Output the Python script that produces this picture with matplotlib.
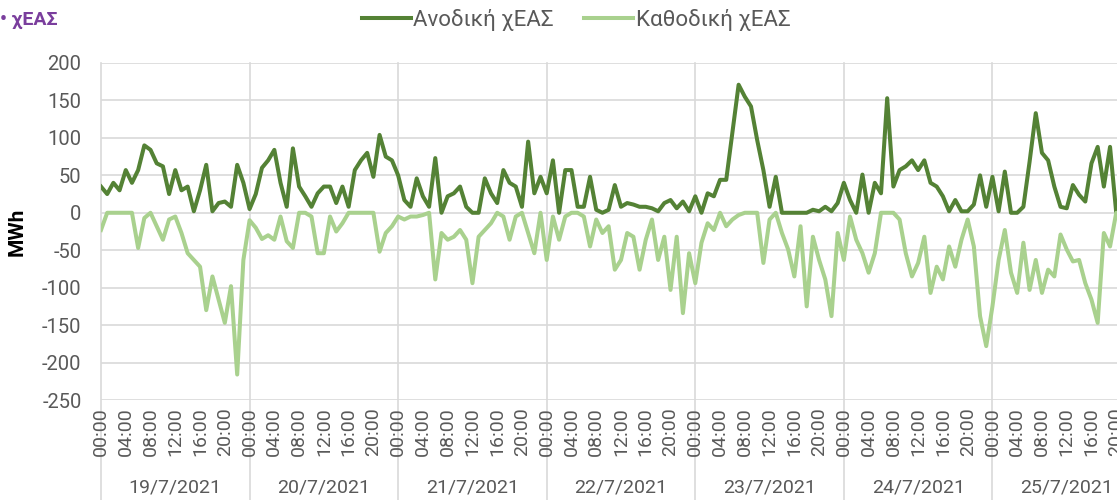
import matplotlib
matplotlib.use("Agg")
import matplotlib.pyplot as plt

plt.rcParams['font.family'] = ['Roboto', 'DejaVu Sans']
plt.rcParams['axes.unicode_minus'] = False

# hourly values, one list per day
days = ["19/7/2021", "20/7/2021", "21/7/2021", "22/7/2021",
        "23/7/2021", "24/7/2021", "25/7/2021"]

up_19 = [35, 25, 40, 30, 57, 40, 57, 90, 84, 66, 62, 25, 57, 30, 35, 2, 30, 64, 2, 13, 15, 8, 64, 40]
up_20 = [5, 25, 60, 70, 84, 40, 8, 86, 35, 22, 8, 26, 35, 35, 13, 35, 8, 57, 70, 80, 48, 104, 75, 70]
up_21 = [50, 17, 8, 46, 22, 8, 73, 0, 22, 26, 35, 8, 0, 0, 46, 26, 13, 57, 40, 35, 8, 95, 26, 48]
up_22 = [26, 70, 0, 57, 57, 8, 8, 48, 4, 0, 4, 37, 8, 13, 11, 8, 8, 6, 2, 13, 17, 6, 15, 2]
up_23 = [22, 0, 26, 22, 44, 44, 108, 171, 155, 142, 97, 57, 8, 48, 0, 0, 0, 0, 0, 4, 2, 8, 2, 13]
up_24 = [40, 17, 0, 51, 0, 40, 26, 153, 35, 57, 62, 70, 57, 70, 40, 35, 22, 2, 17, 2, 2, 11, 50, 8]
up_25 = [48, 2, 55, 0, 0, 8, 68, 133, 80, 70, 35, 8, 6, 37, 24, 15, 66, 88, 35, 88, 0, 20, 30, 10]

down_19 = [-23, 0, 0, 0, 0, 0, -47, -7, 0, -18, -36, -9, -5, -27, -54, -63, -72, -130, -85, -116, -147, -98, -216, -63]
down_20 = [-10, -20, -35, -30, -36, -5, -38, -47, 0, 0, -5, -54, -54, -5, -25, -14, 0, 0, 0, 0, 0, -52, -27, -18]
down_21 = [-5, -9, -5, -5, -3, 0, -89, -27, -36, -32, -23, -36, -94, -32, -23, -14, 0, -5, -36, -5, 0, -27, -54, 0]
down_22 = [-63, -5, -36, -5, 0, 0, -5, -45, -9, -27, -18, -76, -63, -27, -32, -76, -36, -9, -63, -32, -103, -32, -134, -54]
down_23 = [-94, -40, -14, -23, 0, -18, -9, -3, 0, 0, 0, -67, -9, 0, -27, -49, -85, -18, -125, -32, -63, -89, -138, -27]
down_24 = [-63, -5, -36, -54, -80, -54, 0, 0, 0, -9, -54, -85, -67, -32, -107, -72, -89, -45, -72, -36, -9, -45, -138, -178]
down_25 = [-125, -63, -23, -80, -107, -40, -103, -63, -107, -76, -85, -29, -49, -65, -63, -94, -116, -147, -27, -45, 0, -20, -40, -30]

hour_labels = ["00:00", "04:00", "08:00", "12:00", "16:00", "20:00"]

anodiki = up_19 + up_20 + up_21 + up_22 + up_23 + up_24 + up_25
kathodiki = down_19 + down_20 + down_21 + down_22 + down_23 + down_24 + down_25
hours = list(range(len(anodiki)))

dark = '#548235'
light = '#a9d18e'
grid = '#d9d9d9'
txt = '#595959'

fig = plt.figure(figsize=(11.17, 5.0), dpi=100)
# the chart is cut off on the right, as in the source
ax = fig.add_axes([101 / 1117, 100 / 500, 1040 / 1117, 337 / 500])

ax.plot(hours, anodiki, color=dark, lw=2.9, label='Ανοδική χΕΑΣ', solid_joinstyle='round')
ax.plot(hours, kathodiki, color=light, lw=2.9, label='Καθοδική χΕΑΣ', solid_joinstyle='round')

ax.set_xlim(0, 24 * len(days))
ax.set_ylim(-250, 200)
ax.set_yticks(range(-250, 201, 50))
ax.yaxis.grid(True, color=grid, lw=1.2)
ax.set_axisbelow(True)
for s in ax.spines.values():
    s.set_visible(False)

# day separators run down through the label area
xt = ax.get_xaxis_transform()
for d in range(len(days) + 1):
    ax.plot([24 * d, 24 * d], [1, -100 / 337], color=grid, lw=1.2,
            transform=xt, clip_on=False, zorder=0)
    if d < len(days):
        ax.text(24 * d + 12, -88 / 337, days[d], transform=xt, ha='center',
                va='center', fontsize=14, color=txt)

ticks = list(range(0, 24 * len(days) + 1, 4))
ax.set_xticks(ticks)
ax.set_xticklabels([hour_labels[(t // 4) % 6] for t in ticks], rotation=90,
                   fontsize=14, color=txt)
ax.tick_params(axis='x', length=0, pad=5)
ax.tick_params(axis='y', length=0, pad=14, labelsize=14.5, labelcolor=txt)

fig.text(17 / 1117, 1 - 232 / 500, 'MWh', rotation=90, ha='center', va='center',
         fontsize=15, fontweight='bold', color='black')
fig.text(0, 1 - 20 / 500, '• χΕΑΣ', ha='left', va='center',
         fontsize=14, fontweight='bold', color='#7a3e9d')

fig.legend(loc='center', bbox_to_anchor=(576 / 1117, 1 - 20 / 500), ncol=2,
           frameon=False, fontsize=16, labelcolor=txt, handlelength=2.2,
           handletextpad=0.1, columnspacing=1.4)

fig.savefig('out.png', dpi=100)
